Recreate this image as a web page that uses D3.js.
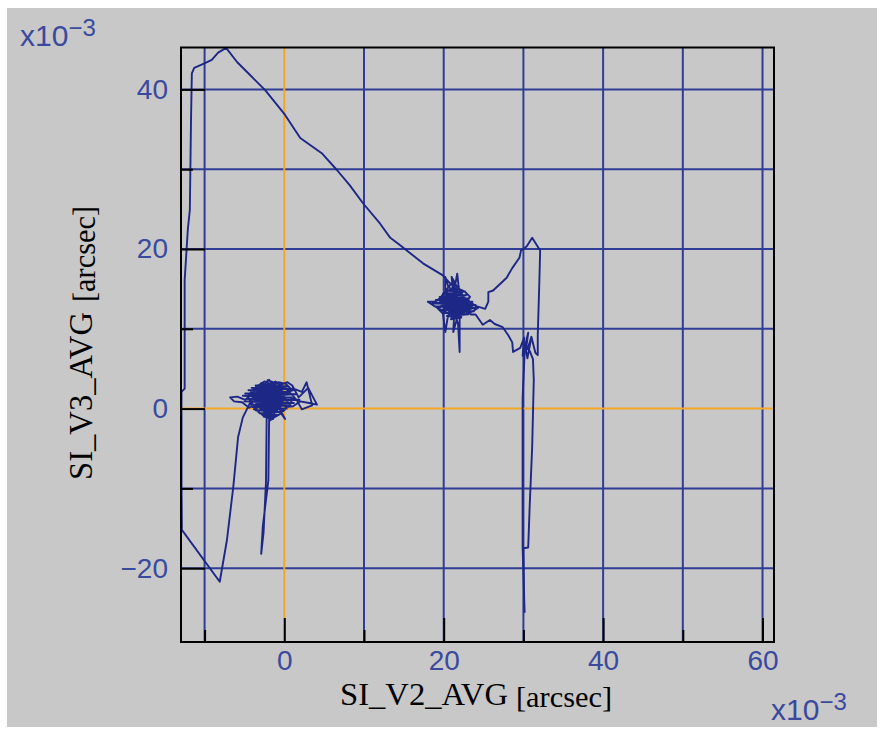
<!DOCTYPE html>
<html>
<head>
<meta charset="utf-8">
<script src="https://cdn.jsdelivr.net/npm/d3@7"></script>
<style>
  body { margin: 0; background: #ffffff; }
</style>
</head>
<body>
<div id="chart"></div>
<script>
// axis ticks (units of 1e-3 arcsec)
const v2Ticks = [-10, 0, 10, 20, 30, 40, 50, 60];
const v3Ticks = [-20, -10, 0, 10, 20, 30, 40];
const v2Labels = [0, 20, 40, 60];
const v3Labels = [-20, 0, 20, 40];
const v2Domain = [-12.96, 61.44];
const v3Domain = [-29.25, 45.25];

// trajectory pieces, [SI_V2_AVG, SI_V3_AVG]
// dense jitter around the first pointing
const leftCore = [
  [-2.2,3.6],[-0.8,3.1],[-3.6,2.9],[0.4,2.8],[-4.1,2.6],[1.2,2.5],[-4.5,2.3],[0.6,2.1],[-4.9,1.9],[1.5,1.8],
  [-5.2,1.6],[0.9,1.4],[-4.6,1.2],[1.9,1.1],[-5.0,0.9],[1.2,0.7],[-4.3,0.5],[0.8,0.4],[-4.0,0.2],[0.3,0.0],
  [-3.6,-0.2],[-0.3,-0.4],[-3.1,-0.6],[-0.8,-0.8],[-2.6,-1.0],[-1.4,-1.3],[-3.3,0.3],[-0.5,2.4],[-2.9,3.2],
  [-1.7,0.6],[-4.2,1.7],[-0.2,1.0],[-2.4,2.8],[-3.8,-0.1],[0.7,2.2],[-1.1,3.4],[-3.4,1.2],[-0.9,-0.2],[-2.0,2.0]
];
const leftCluster = [
  [-2.2,0.0],[-1.6,0.8],[-2.5,1.4],[-3.2,0.7],[-2.8,-0.2],[-1.9,0.4],[-1.2,1.3],[-2.0,2.1],[-2.9,1.7],[-3.6,1.1],
  [-3.1,0.2],[-2.4,-0.5],[-1.5,-0.1],[-0.8,0.7],[-1.4,1.6],[-2.3,2.6],[-3.0,2.2],[-3.8,1.6],[-4.3,0.8],[-3.7,0.1],
  [-2.9,0.9],[-2.1,1.5],[-1.3,2.2],[-0.6,1.6],[-0.2,0.9],[-0.9,0.2],[-1.8,-0.4],[-2.6,0.3],[-3.3,1.3],[-2.7,2.0],
  [-1.9,2.7],[-1.0,2.9],[-0.4,2.3],[0.3,1.7],[0.8,2.5],[0.2,3.1],[-0.7,3.3],[-1.6,3.0],[-2.5,3.4],[-3.3,2.9],
  [-4.0,2.3],[-4.6,1.5],[-4.0,0.6],[-3.4,-0.3],[-2.6,-0.9],[-1.7,-0.6],[-1.0,-0.1],[-0.3,0.4],[0.4,0.9],[1.1,1.3],
  [0.6,0.4],[-0.1,-0.3],[-0.9,0.5],[-1.6,1.1],[-2.4,0.7],[-3.0,1.6],[-2.2,2.3],[-1.4,1.9],[-0.8,1.2],[-1.5,0.4],
  [-2.3,-0.2],[-3.2,0.4],[-3.9,1.4],[-3.3,2.4],[-2.4,1.8],[-1.7,2.4],[-0.9,2.0],[-0.2,1.4],[0.5,2.1],[1.4,2.4],
  [2.2,2.1],[2.8,3.3],[3.5,0.4],[2.2,-0.1],[1.6,1.0],[0.9,1.8],[0.1,2.6],[-0.8,2.6],[-1.8,2.0],[-2.7,1.2],
  [-3.5,0.6],[-4.4,0.1],[-5.3,0.8],[-6.3,0.9],[-6.8,1.4],[-5.9,1.5],[-4.9,1.1],[-4.1,1.8],[-3.4,2.6],[-2.6,3.0],
  [-1.9,3.6],[-1.3,2.7],[-0.6,2.0],[-1.2,1.0],[-2.0,0.2],[-2.8,0.8],[-2.1,1.2],[-1.3,0.6],[-0.5,-0.2],[0.1,-1.3],
  [-0.4,-0.6],[-1.1,-1.0],[-1.8,-1.5],[-2.2,-0.7],[-1.6,0.2],[-0.7,0.9],[0.2,1.2],[-0.4,1.9],[-1.2,2.4],[-2.0,1.8],
  [-2.9,2.5],[-3.6,1.8],[-3.0,1.0],[-2.3,0.6],[-1.5,1.4],[-0.7,2.9],[0.4,3.3],[1.0,2.9],[1.8,1.4],[3.0,2.6],
  [4.1,0.5],[3.1,0.7],[2.0,0.9],[1.1,0.3],[0.2,0.2],[-0.6,0.9],[-1.5,1.7],[-2.4,1.3],[-2.2,0.0]
];
const leftSpike = [
  [-2.3,-9.2],[-2.6,-15.5],[-2.9,-18.2],[-2.7,-14.8],[-2.0,-9.0],[-1.9,-1.2],
  [-1.2,-1.0],[-2.0,1.6],[-2.6,0.8],[-3.2,2.2],[-1.6,1.2],[-4.2,0.9],[-5.2,-1.1]
];
const leftClimb = [
  [-5.8,-3.6],[-6.4,-9.8],[-7.2,-16.5],[-8.1,-21.7],[-12.85,-15.2],[-12.9,-9.2],[-12.9,2.1],
  [-12.5,2.5],[-12.5,16.1],[-12.1,22.5],[-11.85,24.9],[-11.7,36.4],[-11.6,42.0],[-11.3,42.7],
  [-9.95,43.3],[-9.1,43.7],[-8.3,44.6],[-7.3,45.2]
];
const topDescent = [
  [-5.9,43.4],[-4.3,41.8],[-2.4,39.9],[0.1,36.8],[2.0,33.9],[4.7,32.0],[6.6,29.9],[8.2,28.0],
  [9.9,25.7],[12.0,23.2],[13.3,21.4],[14.5,20.5],[17.4,18.2],[19.9,16.7],[20.8,15.7]
];
// dense jitter around the second pointing
const rightCore = [
  [21.6,15.0],[20.3,14.8],[22.4,14.6],[19.9,14.4],[22.8,14.2],[19.5,14.0],[23.2,13.8],[19.0,13.6],[23.6,13.4],
  [18.6,13.2],[24.0,13.0],[19.0,12.8],[24.3,12.6],[19.4,12.4],[23.8,12.2],[19.9,12.0],[23.1,11.8],[20.4,11.6],
  [22.2,11.4],[20.9,11.2],[22.6,13.9],[20.1,12.6],[21.9,15.3],[20.6,11.8],[23.4,12.9],[19.6,13.9],[21.2,16.0],
  [22.1,12.2],[20.2,14.1],[21.4,13.1]
];
const rightCluster = [
  [21.2,14.6],[20.4,13.9],[19.6,13.2],[20.3,12.5],[21.1,13.1],[21.9,13.8],[22.6,13.2],[21.8,12.4],[21.0,12.0],
  [20.2,12.8],[19.4,13.6],[20.1,14.4],[20.9,14.0],[21.6,13.3],[22.4,12.6],[23.2,12.9],[22.7,13.8],[21.9,14.5],[21.2,15.2],
  [20.5,14.7],[19.8,14.1],[19.0,13.4],[18.0,13.4],[18.9,12.8],[19.8,12.3],[20.6,11.9],[21.4,12.5],[22.2,13.1],[23.0,13.6],
  [23.8,13.0],[24.3,12.6],[23.5,12.1],[22.6,11.8],[21.8,11.5],[21.2,12.2],[20.5,13.1],[19.9,13.8],[20.7,14.3],[21.5,14.0],
  [22.3,14.4],[21.7,15.2],[21.0,16.5],[21.2,14.2],[20.4,13.4],[21.1,12.7],[21.9,12.9],[22.5,12.2],[22.0,11.2],[22.0,7.1],
  [21.8,10.6],[21.4,11.9],[20.7,12.6],[20.0,13.0],[19.3,12.5],[19.9,11.9],[20.2,9.6],[20.5,11.4],[21.0,12.8],[21.7,13.6],
  [22.4,13.5],[23.1,12.5],[22.4,11.9],[21.6,12.3],[20.8,13.5],[20.2,14.9],[20.2,16.5],[20.6,15.2],[21.3,14.8],[21.7,16.9],
  [21.9,15.0],[22.6,14.7],[23.3,14.0],[22.8,13.3],[21.9,12.1],[21.2,9.6],[21.3,11.5],[20.6,12.3],[19.7,12.9],[20.4,13.7],
  [21.2,13.4],[22.1,12.7],[22.9,12.3],[23.7,12.6],[23.1,13.2],[22.2,13.9],[21.4,13.0],[20.9,12.3],[21.6,11.8],[22.4,12.9],
  [23.4,11.8],[24.0,11.8],[24.9,10.5]
];
const rightDrop = [
  [25.8,11.1],[26.4,10.6],[27.4,10.2],[28.1,9.2],[28.6,8.3],[28.7,7.1],[29.6,7.6],[30.1,8.9],[29.9,6.6],
  [30.6,9.5],[30.3,7.2],[30.9,8.4],[30.5,6.3],[30.2,8.1],[29.9,1.3],[29.9,-17.4],[30.1,-23.9],[30.15,-25.5],
  [30.1,-24.2],[30.0,-17.5],[30.6,-17.4],[30.8,-11.9],[31.1,-4.8],[31.3,3.6],[31.2,6.2],[30.6,7.7],[31.0,9.0],
  [31.5,7.0],[31.8,6.7],[31.8,9.2],[32.0,15.9],[32.1,19.8],[31.1,21.4],[30.4,20.3],[29.7,19.8],[29.5,18.9],
  [28.6,17.6],[27.9,16.4],[26.2,14.8],[25.6,14.6],[25.6,13.4],[25.2,12.5],[24.2,12.8],[22.4,13.4],[21.5,13.0]
];

const trajectory = [].concat(leftCore, leftCluster, leftSpike, leftClimb, topDescent,
                             rightCore, rightCluster, rightDrop);

const frame = {left: 181, right: 774, top: 47.5, bottom: 642};
const gridColor = '#2f3d96';
const zeroColor = '#f2a825';
const lineColor = '#1d2786';
const labelColor = '#3a4a9e';

var svg = d3.select('#chart').append('svg')
    .attr('width', 884)
    .attr('height', 735);

svg.append('rect')
    .attr('x', 7).attr('y', 8)
    .attr('width', 870).attr('height', 719)
    .attr('fill', '#c8c8c8');

var x = d3.scaleLinear().domain(v2Domain).range([frame.left, frame.right]);
var y = d3.scaleLinear().domain(v3Domain).range([frame.bottom, frame.top]);

// grid
var grid = svg.append('g').attr('stroke-width', 2);
grid.selectAll('.vgrid')
    .data(v2Ticks)
    .join('line')
    .attr('class', 'vgrid')
    .attr('x1', function(d) { return x(d); })
    .attr('x2', function(d) { return x(d); })
    .attr('y1', frame.top)
    .attr('y2', frame.bottom)
    .attr('stroke', function(d) { return d === 0 ? zeroColor : gridColor; });
grid.selectAll('.hgrid')
    .data(v3Ticks)
    .join('line')
    .attr('class', 'hgrid')
    .attr('x1', frame.left)
    .attr('x2', frame.right)
    .attr('y1', function(d) { return y(d); })
    .attr('y2', function(d) { return y(d); })
    .attr('stroke', function(d) { return d === 0 ? zeroColor : gridColor; });
// zero lines on top of the blue grid
grid.selectAll('.hgrid').filter(function(d) { return d === 0; }).raise();
grid.selectAll('.vgrid').filter(function(d) { return d === 0; }).raise();

// trajectory
svg.append('clipPath').attr('id', 'plot-clip')
    .append('rect')
    .attr('x', frame.left).attr('y', frame.top)
    .attr('width', frame.right - frame.left)
    .attr('height', frame.bottom - frame.top);

var line = d3.line()
    .x(function(d) { return x(d[0]); })
    .y(function(d) { return y(d[1]); });

svg.append('path')
    .datum(trajectory)
    .attr('clip-path', 'url(#plot-clip)')
    .attr('fill', 'none')
    .attr('stroke', lineColor)
    .attr('stroke-width', 1.9)
    .attr('stroke-linejoin', 'round')
    .attr('d', line);

// axes: inward black ticks, long at labelled values
function styleAxis(g) {
    g.select('.domain').remove();
    g.selectAll('.tick line').attr('stroke', '#000').attr('stroke-width', 2);
    g.selectAll('.tick text')
        .attr('fill', labelColor)
        .style('font-family', '"Liberation Sans", Arial, sans-serif')
        .style('font-size', '28px');
}

svg.append('g')
    .attr('transform', 'translate(0,' + frame.bottom + ')')
    .call(d3.axisBottom(x).tickValues(v2Ticks.filter(function(d) { return v2Labels.indexOf(d) < 0; }))
        .tickSize(-12).tickFormat(''))
    .call(styleAxis);
svg.append('g')
    .attr('transform', 'translate(0,' + frame.bottom + ')')
    .call(d3.axisBottom(x).tickValues(v2Labels).tickSize(-24).tickPadding(8))
    .call(styleAxis);
svg.append('g')
    .attr('transform', 'translate(' + frame.left + ',0)')
    .call(d3.axisLeft(y).tickValues(v3Ticks.filter(function(d) { return v3Labels.indexOf(d) < 0; }))
        .tickSize(-12).tickFormat(''))
    .call(styleAxis);
svg.append('g')
    .attr('transform', 'translate(' + frame.left + ',0)')
    .call(d3.axisLeft(y).tickValues(v3Labels).tickSize(-24).tickPadding(13))
    .call(styleAxis);

// frame
svg.append('rect')
    .attr('x', frame.left).attr('y', frame.top)
    .attr('width', frame.right - frame.left)
    .attr('height', frame.bottom - frame.top)
    .attr('fill', 'none')
    .attr('stroke', '#000')
    .attr('stroke-width', 2);

// exponent labels
function exponent(px, py) {
    var t = svg.append('text')
        .attr('x', px).attr('y', py)
        .attr('fill', labelColor)
        .style('font-family', '"Liberation Sans", Arial, sans-serif')
        .style('font-size', '30px');
    t.append('tspan').text('x10');
    t.append('tspan').attr('dy', -10).style('font-size', '24px').text('\u22123');
}
exponent(20, 46);
exponent(771, 720);

// axis titles
var serif = '"Liberation Serif", "Times New Roman", serif';
svg.append('text')
    .attr('x', 340).attr('y', 705)
    .attr('textLength', 168).attr('lengthAdjust', 'spacingAndGlyphs')
    .style('font-family', serif).style('font-size', '32px')
    .text('SI_V2_AVG');
svg.append('text')
    .attr('x', 516).attr('y', 707)
    .attr('textLength', 96).attr('lengthAdjust', 'spacingAndGlyphs')
    .style('font-family', serif).style('font-size', '30px')
    .text('[arcsec]');

var yTitle = svg.append('g').attr('transform', 'translate(92,480) rotate(-90)');
yTitle.append('text')
    .attr('x', 0).attr('y', 0)
    .attr('textLength', 168).attr('lengthAdjust', 'spacingAndGlyphs')
    .style('font-family', serif).style('font-size', '34px')
    .text('SI_V3_AVG');
yTitle.append('text')
    .attr('x', 178).attr('y', 3)
    .attr('textLength', 96).attr('lengthAdjust', 'spacingAndGlyphs')
    .style('font-family', serif).style('font-size', '31px')
    .text('[arcsec]');
</script>
</body>
</html>
